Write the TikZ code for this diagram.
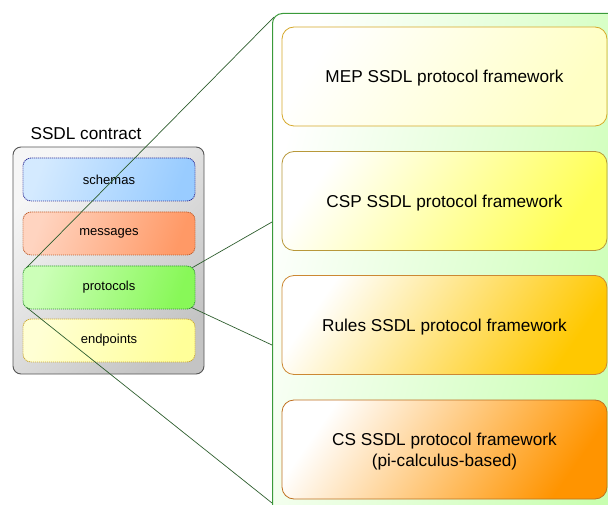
\documentclass[tikz,border=0pt]{standalone}
\usepackage{fontspec}
\setmainfont{Liberation Sans}
\definecolor{frameG}{HTML}{3A9A3A}
\definecolor{frameFill}{HTML}{C8FFB0}
\definecolor{lineG}{HTML}{2E5E2E}
\definecolor{mepC}{HTML}{FFFFC4}
\definecolor{mepB}{HTML}{D6A82A}
\definecolor{cspC}{HTML}{FFFF55}
\definecolor{cspB}{HTML}{B8983A}
\definecolor{rulC}{HTML}{FFC800}
\definecolor{rulB}{HTML}{CC8833}
\definecolor{csC}{HTML}{FF9400}
\definecolor{csB}{HTML}{C07020}
\definecolor{grayC}{HTML}{C4C4C4}
\definecolor{grayB}{HTML}{555555}
\definecolor{schC}{HTML}{99CCFF}
\definecolor{schL}{HTML}{D4EAFF}
\definecolor{schB}{HTML}{333399}
\definecolor{msgC}{HTML}{FF9966}
\definecolor{msgL}{HTML}{FFD4C0}
\definecolor{msgB}{HTML}{C06030}
\definecolor{proC}{HTML}{88F858}
\definecolor{proL}{HTML}{CCFFB8}
\definecolor{proB}{HTML}{339933}
\definecolor{endC}{HTML}{FFFF99}
\definecolor{endL}{HTML}{FFFFD4}
\definecolor{endB}{HTML}{CCA833}
\tikzset{
  fwbox/.style 2 args={rounded corners=12pt, minimum width=325pt, minimum height=99pt,
    draw=#2, line width=0.8pt, left color=white, right color=#1, shading angle=55, inner sep=0pt},
  fwtext/.style={font=\fontsize{17.2}{21}\selectfont, align=center, inner sep=0pt, yshift=-2pt},
  inbox/.style n args={3}{rounded corners=8pt, minimum width=172pt, minimum height=43pt,
    draw=#3, line width=0.8pt, dash pattern=on 1.2pt off 0.8pt, left color=#1, right color=#2,
    shading angle=70, font=\fontsize{13}{15}\selectfont, inner sep=0pt},
  conn/.style={draw=lineG, line width=0.7pt},
}
\begin{document}
\begin{tikzpicture}[x=1pt,y=-1pt]
\useasboundingbox (0,0) rectangle (608,505);
\begin{scope}
\clip (0,0) rectangle (608,505);
% container
\node[draw=frameG, line width=1pt, rounded corners=10pt, left color=white, right color=frameFill,
  shading angle=75, minimum width=360pt, minimum height=520pt, inner sep=0pt, anchor=north west]
  (frame) at (272,13) {};
% frameworks
\node[fwbox={mepC}{mepB}] (mep) at (444.5,76.5) {};
\node[fwbox={cspC}{cspB}] (csp) at (444.5,201) {};
\node[fwbox={rulC}{rulB}] (rul) at (444.5,325) {};
\node[fwbox={csC}{csB}] (cs) at (444.5,449.5) {};
\node[fwtext] (mepT) at (mep.center) {MEP SSDL protocol framework};
\node[fwtext] (cspT) at (csp.center) {CSP SSDL protocol framework};
\node[fwtext] (rulT) at (rul.center) {Rules SSDL protocol framework};
\node[fwtext] (csT) at (cs.center) {CS SSDL protocol framework\\(pi-calculus-based)};
% contract
\node[font=\fontsize{17.2}{20}\selectfont, inner sep=0pt] (title) at (86,134) {SSDL contract};
\node[draw=grayB, line width=0.9pt, rounded corners=8pt, left color=grayC!15, middle color=grayC, right color=grayC,
  shading angle=45, minimum width=191pt, minimum height=227pt, inner sep=0pt] (contract) at (108.5,260.5) {};
\node[inbox={schL}{schC}{schB}] (schemas) at (109,179.5) {schemas};
\node[inbox={msgL}{msgC}{msgB}] (messages) at (109,233.5) {messages};
\node[inbox={proL}{proC}{proB}] (protocols) at (109,287.5) {protocols};
\node[inbox={endL}{endC}{endB}] (endpoints) at (109,340.5) {endpoints};
% connector ends on the container
\coordinate (e1) at ([shift={(2,4)}]frame.north west);
\coordinate (e2) at (frame.west |- 0,222);
\coordinate (e3) at (frame.west |- 0,345);
\coordinate (e4) at (frame.west |- 0,503);
\draw[conn] ([shift={(4,2)}]protocols.north west) -- (e1);
\draw[conn] ([shift={(-3,2)}]protocols.north east) -- (e2);
\draw[conn] ([shift={(-4,-2)}]protocols.south east) -- (e3);
\draw[conn] ([shift={(4,-2)}]protocols.south west) -- (e4);
\end{scope}
\end{tikzpicture}
\end{document}
